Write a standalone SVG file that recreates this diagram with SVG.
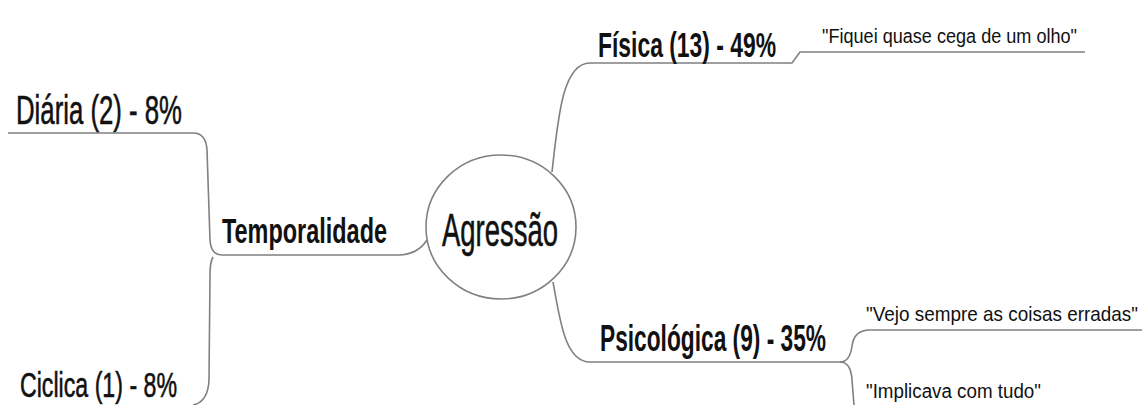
<svg xmlns="http://www.w3.org/2000/svg" width="1142" height="405" viewBox="0 0 1142 405">
<style>
text{font-family:"Liberation Sans",Arial,sans-serif;fill:#111}
.b{font-weight:bold}
.m{stroke:#111;stroke-width:0.6}
.q{font-size:21px}
.c{fill:none;stroke:#808080;stroke-width:1.6}
</style>
<rect width="1142" height="405" fill="#fff"/>
<g id="connectors">
<path class="c" d="M8,133 L193,133 Q206,133 207,150 L210,240 Q211,255 222,255 L400,255 Q418,254 427,240"/>
<path class="c" d="M213,257 Q210,262 210,275 L209,380 Q208,402 193,405"/>
<path class="c" d="M552,172 C558,120 562,63 590,63 L792,63 L800,52 L1085,52"/>
<path class="c" d="M553,282 C560,320 565,362 590,362 L840,362 Q850,362 852,346 Q854,330 870,330 L1142,330"/>
<path class="c" d="M840,362 Q851,362 852,380 L854,405"/>
</g>
<g id="agressao">
<ellipse cx="501" cy="227" rx="75" ry="72" fill="#fff" stroke="#808080" stroke-width="1.6"/>
<text class="m" transform="translate(442,246) scale(0.584,1)" font-size="47" textLength="198.6" lengthAdjust="spacingAndGlyphs">Agressão</text>
</g>
<g id="temporalidade">
<text class="b" transform="translate(222,243) scale(0.663,1)" font-size="35" textLength="248.9" lengthAdjust="spacingAndGlyphs">Temporalidade</text>
</g>
<g id="diaria">
<text class="m" transform="translate(16,124) scale(0.644,1)" font-size="40" textLength="257.8" lengthAdjust="spacingAndGlyphs">Diária (2) - 8%</text>
</g>
<g id="ciclica">
<text class="m" transform="translate(20,397) scale(0.643,1)" font-size="36" textLength="244.2" lengthAdjust="spacingAndGlyphs">Ciclica (1) - 8%</text>
</g>
<g id="fisica">
<text class="b" transform="translate(598,57) scale(0.636,1)" font-size="36" textLength="279.9" lengthAdjust="spacingAndGlyphs">Física (13) - 49%</text>
</g>
<g id="quote-fisica">
<text class="q" transform="translate(822,43) scale(0.861,1)" textLength="296.2" lengthAdjust="spacingAndGlyphs">"Fiquei quase cega de um olho"</text>
</g>
<g id="psicologica">
<text class="b" transform="translate(600,351) scale(0.614,1)" font-size="37" textLength="368.1" lengthAdjust="spacingAndGlyphs">Psicológica (9) - 35%</text>
</g>
<g id="quote-vejo">
<text class="q" transform="translate(866,321) scale(0.898,1)" textLength="302.9" lengthAdjust="spacingAndGlyphs">"Vejo sempre as coisas erradas"</text>
</g>
<g id="quote-implicava">
<text class="q" transform="translate(866,398) scale(0.894,1)" textLength="195.7" lengthAdjust="spacingAndGlyphs">"Implicava com tudo"</text>
</g>
</svg>
